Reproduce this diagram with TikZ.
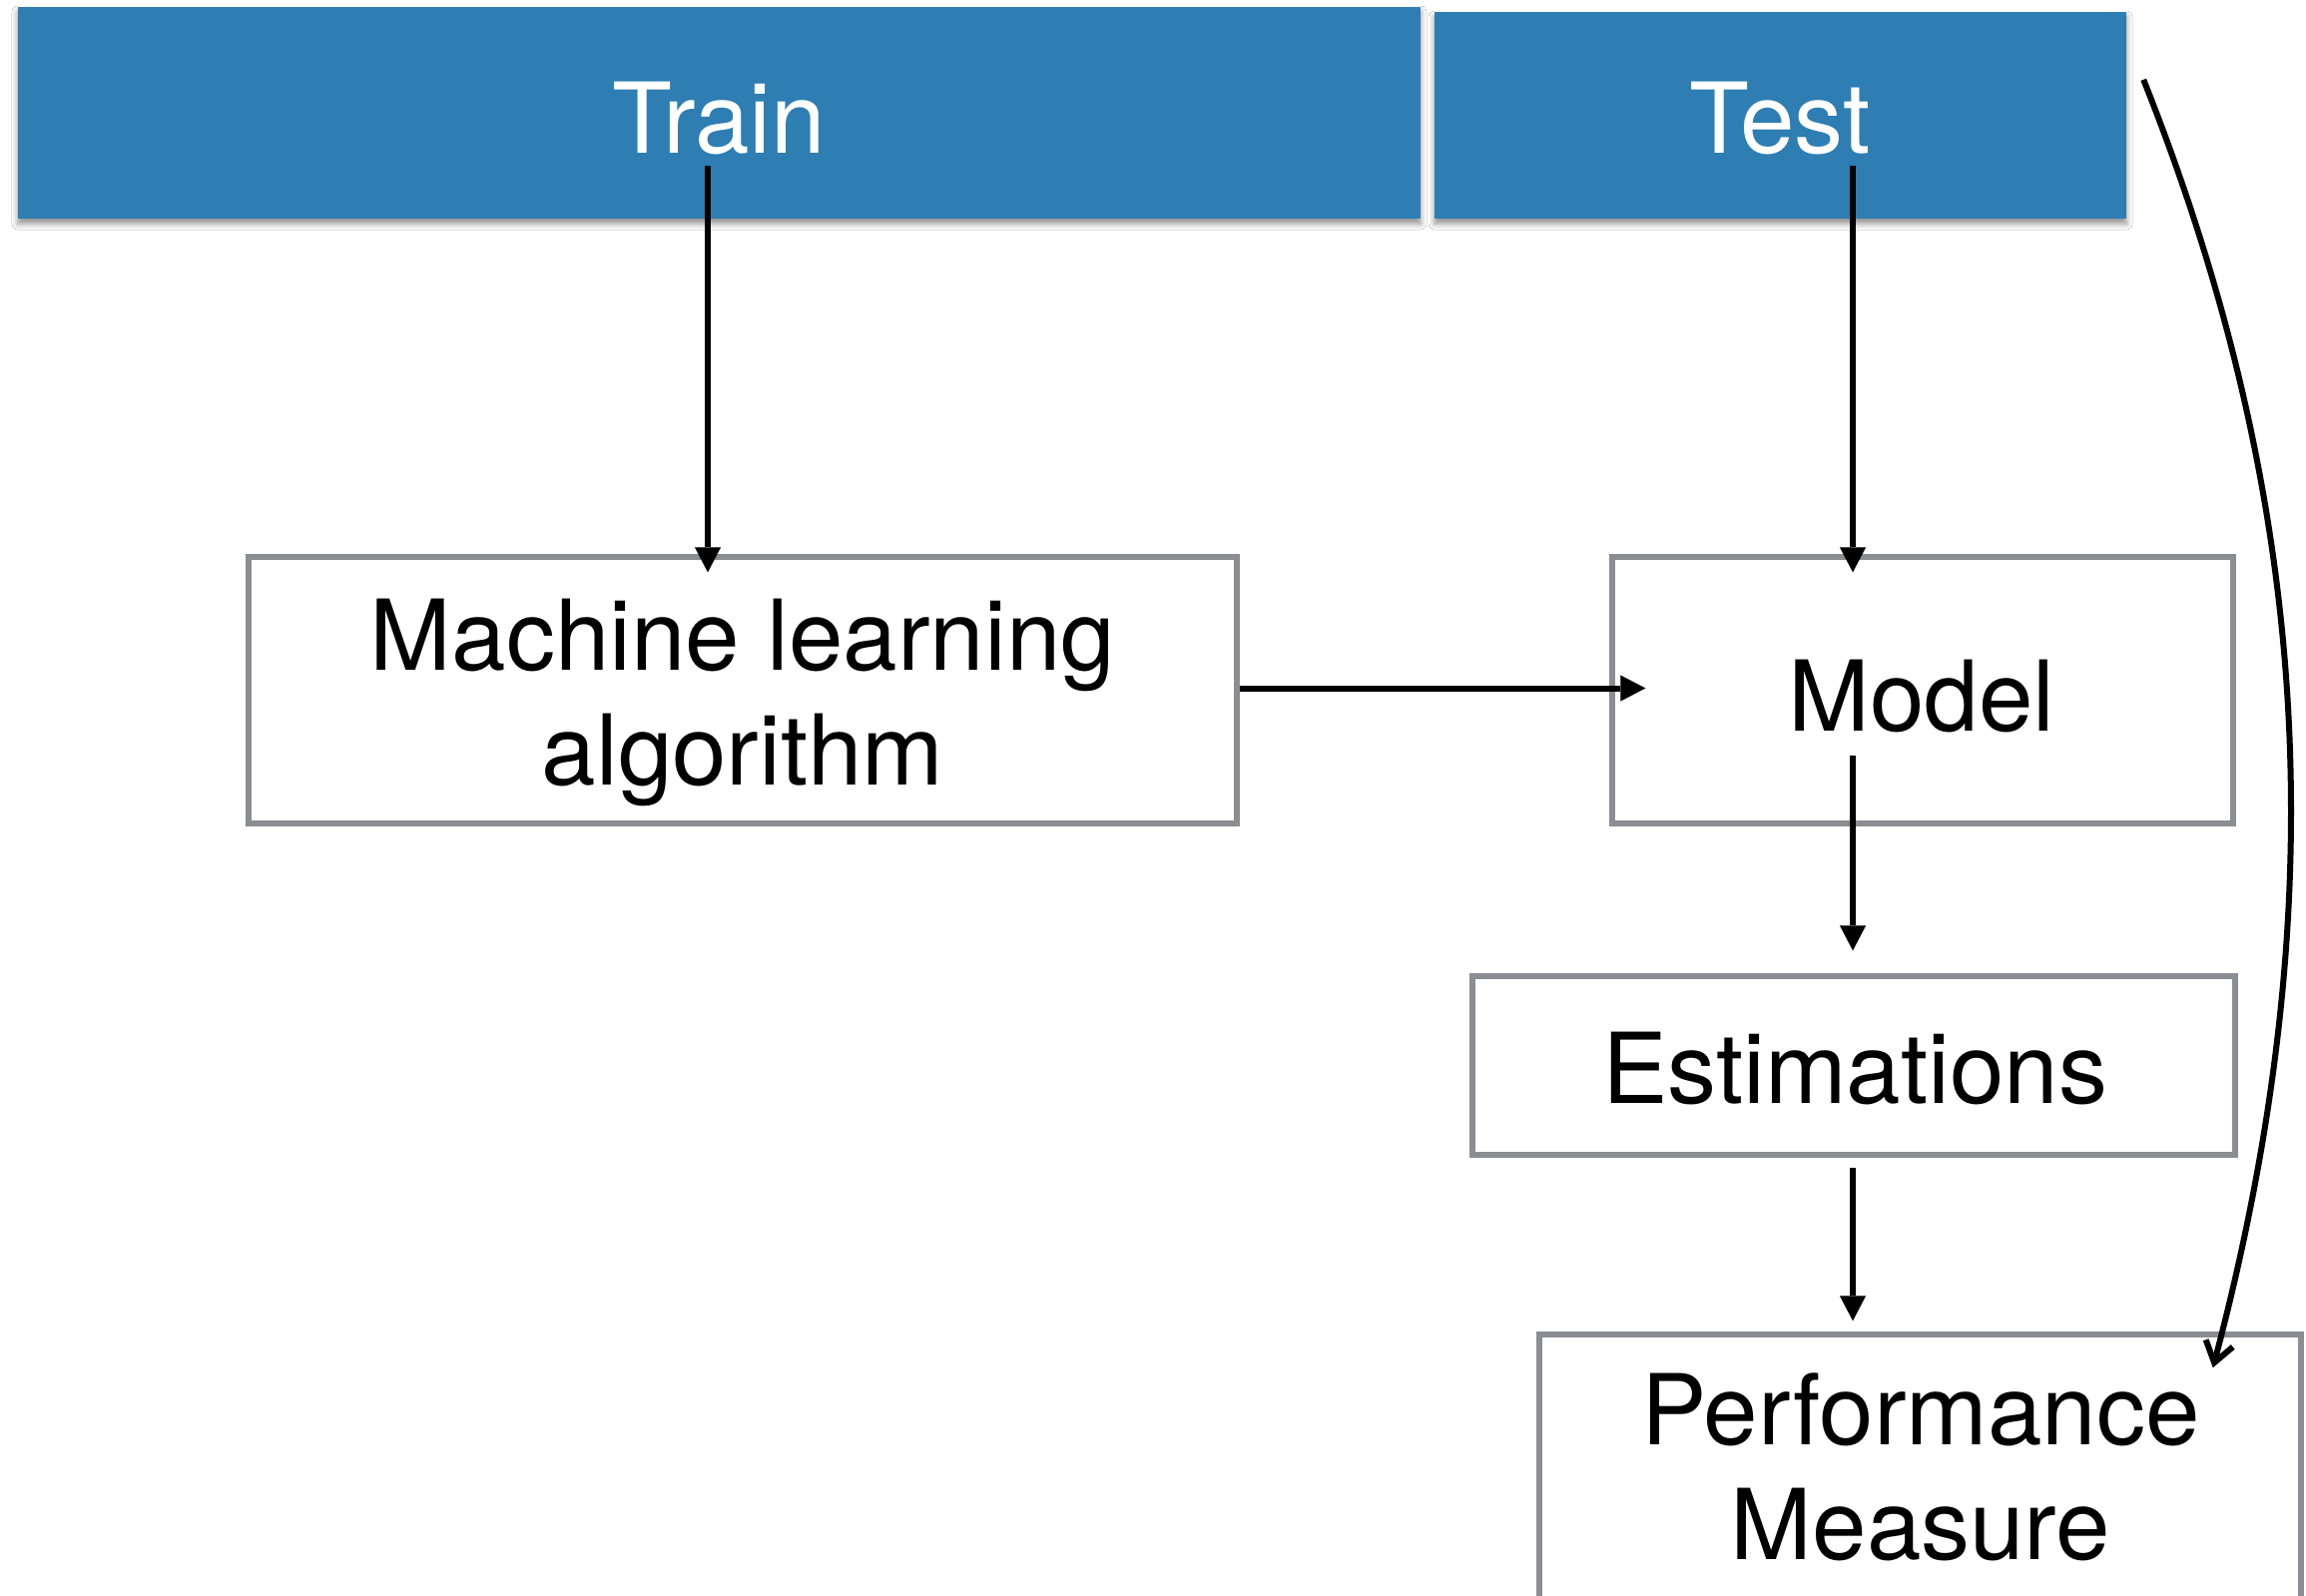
\documentclass[tikz,border=0pt]{standalone}
\usepackage{fontspec}
\setmainfont{TeX Gyre Heros}
\usetikzlibrary{arrows.meta,calc,shadows.blur}
\definecolor{barblue}{RGB}{46,126,180}
\definecolor{boxgray}{RGB}{138,141,145}
\begin{document}
\begin{tikzpicture}[x=1pt,y=-1pt,
  bar/.style={rectangle, fill=barblue, draw=none, inner sep=0pt,
    blur shadow={shadow xshift=0pt, shadow yshift=-5pt, shadow blur radius=6pt, shadow opacity=45}},
  barlabel/.style={text=white, inner sep=0pt, font=\fontsize{98}{115}\selectfont},
  box/.style={rectangle, draw=boxgray, line width=5.5pt, fill=white, inner sep=0pt},
  boxlabel/.style={inner sep=0pt, align=center, font=\fontsize{98}{115}\selectfont},
  flow/.style={line width=6pt, -{Triangle[length=25pt,width=26pt,line width=0.1pt]}},
  loopback/.style={line width=6pt, -{Straight Barb[length=20pt,width=28pt,line width=6pt]}}
]
% canvas
\fill[white] (0,0) rectangle (2310,1598);
\useasboundingbox (0,0) rectangle (2310,1598);
\clip (0,0) rectangle (2310,1598);

% data split bars
\node[bar, minimum width=1405pt, minimum height=212pt] (train) at (720.5,113) {};
\node[bar, minimum width=693pt, minimum height=207pt] (test) at (1783.5,115.5) {};
\node[barlabel, anchor=base] (trainlbl) at (720,153) {Train};
\node[barlabel, anchor=base] (testlbl) at (1783,153) {Test};

% process boxes
\node[box, minimum width=990pt, minimum height=267pt] (ml) at (744,691.5) {};
\node[boxlabel] (mllbl) at (744,704) {Machine learning\\algorithm};
\node[box, minimum width=622pt, minimum height=267pt] (model) at (1926,691.5) {};
\node[boxlabel, anchor=base] (modellbl) at (1925,732) {Model};
\node[box, minimum width=764pt, minimum height=179pt] (est) at (1857,1067.5) {};
\node[boxlabel, anchor=base] (estlbl) at (1858,1105) {Estimations};
\node[box, minimum width=763pt, minimum height=303pt] (pm) at (1923.5,1488.5) {};
\node[boxlabel] (pmlbl) at (1924,1470) {Performance\\Measure};

% flow arrows
\draw[flow] ($(train.south)+(-11.5,-53)$) -- ($(ml.north)+(-35,18)$);
\draw[flow] ($(test.south)+(72.5,-53)$) -- ($(model.north)+(-70,18)$);
\draw[flow] ($(ml.east)+(0,-2)$) -- ($(model.west)+(36,-2)$);
\draw[flow] ($(model.south)+(-70,-71)$) -- ($(est.north)+(-1,-23)$);
\draw[flow] ($(est.south)+(-1,10)$) -- ($(pm.north)+(-67.5,-11)$);

% test labels go straight to the performance measure
\coordinate (loopstart) at ($(test.north east)+(17,68)$);
\draw[loopback] (loopstart) .. controls (2325,526) and (2334,927) .. ($(pm.north east)+(-91,36)$);
\end{tikzpicture}
\end{document}
